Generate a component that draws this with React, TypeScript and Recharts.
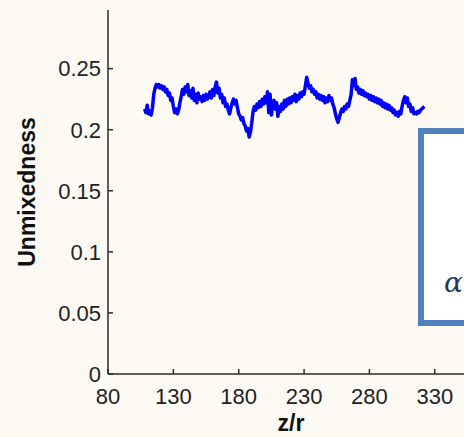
import React from 'react';
import { LineChart, Line, XAxis, YAxis } from 'recharts';

// axial position z/r of each sample
const zPositions = [
  108, 109, 110, 111, 112, 113, 114, 115, 116, 117,
  118, 119, 120, 121, 122, 123, 124, 125, 126, 127,
  128, 129, 130, 131, 132, 133, 134, 135, 136, 137,
  138, 139, 140, 141, 142, 143, 144, 145, 146, 147,
  148, 149, 150, 151, 152, 153, 154, 155, 156, 157,
  158, 159, 160, 161, 162, 163, 164, 165, 166, 167,
  168, 169, 170, 171, 172, 173, 174, 175, 176, 177,
  178, 179, 180, 181, 182, 183, 184, 185, 186, 187,
  188, 189, 190, 191, 192, 193, 194, 195, 196, 197,
  198, 199, 200, 201, 202, 203, 204, 205, 206, 207,
  208, 209, 210, 211, 212, 213, 214, 215, 216, 217,
  218, 219, 220, 221, 222, 223, 224, 225, 226, 227,
  228, 229, 230, 231, 232, 233, 234, 235, 236, 237,
  238, 239, 240, 241, 242, 243, 244, 245, 246, 247,
  248, 249, 250, 251, 252, 253, 254, 255, 256, 257,
  258, 259, 260, 261, 262, 263, 264, 265, 266, 267,
  268, 269, 270, 271, 272, 273, 274, 275, 276, 277,
  278, 279, 280, 281, 282, 283, 284, 285, 286, 287,
  288, 289, 290, 291, 292, 293, 294, 295, 296, 297,
  298, 299, 300, 301, 302, 303, 304, 305, 306, 307,
  308, 309, 310, 311, 312, 313, 314, 315, 316, 317,
  318, 319, 320, 321, 322,
];

const unmixedness = [
  0.217, 0.214, 0.220, 0.213, 0.215, 0.212, 0.218, 0.229, 0.234, 0.237,
  0.235, 0.237, 0.234, 0.236, 0.233, 0.235, 0.231, 0.233, 0.228, 0.230,
  0.224, 0.226, 0.219, 0.214, 0.217, 0.213, 0.216, 0.222, 0.227, 0.233,
  0.229, 0.235, 0.231, 0.237, 0.228, 0.232, 0.226, 0.234, 0.224, 0.229,
  0.222, 0.230, 0.225, 0.227, 0.223, 0.228, 0.224, 0.229, 0.225, 0.227,
  0.231, 0.226, 0.233, 0.228, 0.235, 0.239, 0.230, 0.234, 0.226, 0.229,
  0.222, 0.226, 0.219, 0.221, 0.216, 0.213, 0.218, 0.222, 0.225, 0.221,
  0.224, 0.218, 0.213, 0.211, 0.208, 0.210, 0.205, 0.203, 0.199, 0.201,
  0.194, 0.198, 0.206, 0.215, 0.219, 0.216, 0.221, 0.218, 0.223, 0.219,
  0.225, 0.221, 0.227, 0.222, 0.231, 0.214, 0.229, 0.212, 0.220, 0.224,
  0.217, 0.222, 0.211, 0.219, 0.215, 0.221, 0.217, 0.224, 0.219, 0.225,
  0.221, 0.226, 0.222, 0.227, 0.224, 0.229, 0.223, 0.228, 0.225, 0.230,
  0.227, 0.231, 0.229, 0.236, 0.243, 0.238, 0.234, 0.236, 0.231, 0.233,
  0.229, 0.231, 0.226, 0.229, 0.225, 0.228, 0.224, 0.227, 0.222, 0.226,
  0.223, 0.228, 0.224, 0.226, 0.221, 0.218, 0.213, 0.209, 0.206, 0.210,
  0.214, 0.217, 0.215, 0.219, 0.217, 0.221, 0.219, 0.224, 0.229, 0.241,
  0.236, 0.242, 0.233, 0.235, 0.230, 0.233, 0.229, 0.232, 0.228, 0.230,
  0.227, 0.229, 0.225, 0.228, 0.224, 0.227, 0.223, 0.226, 0.222, 0.225,
  0.221, 0.224, 0.219, 0.222, 0.218, 0.221, 0.217, 0.220, 0.216, 0.218,
  0.214, 0.216, 0.212, 0.214, 0.211, 0.215, 0.213, 0.219, 0.224, 0.227,
  0.222, 0.226, 0.219, 0.221, 0.215, 0.218, 0.213, 0.214, 0.213, 0.215,
  0.214, 0.216, 0.217, 0.218, 0.219,
];

const xTicks = [80, 130, 180, 230, 280, 330];
const yTicks = [0, 0.05, 0.1, 0.15, 0.2, 0.25];

const data = zPositions.map((z, i) => ({ z, u: unmixedness[i] }));

const BG = '#fcfaf3';
const AXIS = '#2b2b2b';
const FONT = 'Liberation Sans, Arial, sans-serif';
const tickFont = { fontFamily: FONT, fontSize: 22, fill: '#222' };
const titleStyle = { fontFamily: FONT, fontSize: 23, fontWeight: 'bold', fill: '#111' };

export default function App() {
  return (
    <div
      style={{
        position: 'fixed',
        left: 0,
        top: 0,
        width: 464,
        height: 437,
        overflow: 'hidden',
        background: BG,
      }}
    >
      <LineChart
        width={480}
        height={437}
        data={data}
        margin={{ top: 10, right: 6, left: 0, bottom: 0 }}
      >
        <XAxis
          dataKey="z"
          type="number"
          domain={[80, 360]}
          ticks={xTicks}
          allowDataOverflow
          height={63}
          stroke={AXIS}
          strokeWidth={1.5}
          tickSize={-5}
          tickMargin={19}
          tick={tickFont}
          label={{ value: 'z/r', position: 'insideBottom', offset: 6, style: titleStyle }}
        />
        <XAxis
          xAxisId="top"
          orientation="top"
          dataKey="z"
          type="number"
          domain={[80, 360]}
          ticks={xTicks}
          height={0}
          stroke={AXIS}
          strokeWidth={1.5}
          tickSize={-5}
          tick={false}
        />
        <YAxis
          type="number"
          domain={[0, 0.298]}
          ticks={yTicks}
          allowDataOverflow
          width={108}
          stroke={AXIS}
          strokeWidth={1.5}
          tickSize={-5}
          tickMargin={12}
          tick={tickFont}
          label={{ value: 'Unmixedness', angle: -90, position: 'center', dx: -27, style: titleStyle }}
        />
        <Line
          dataKey="u"
          stroke="#0000ff"
          strokeWidth={3.5}
          dot={false}
          isAnimationActive={false}
          strokeLinejoin="round"
        />
      </LineChart>
      {/* annotation panel overlapping the right side of the plot */}
      <div
        style={{
          position: 'absolute',
          left: 418,
          top: 128,
          width: 120,
          height: 186,
          border: '6px solid #4f81bd',
          background: '#ffffff',
        }}
      >
        <span
          style={{
            position: 'absolute',
            left: 20,
            top: 132,
            fontFamily: 'DejaVu Serif, serif',
            fontStyle: 'italic',
            fontSize: 28,
            color: '#1f3864',
          }}
        >
          α
        </span>
      </div>
    </div>
  );
}
